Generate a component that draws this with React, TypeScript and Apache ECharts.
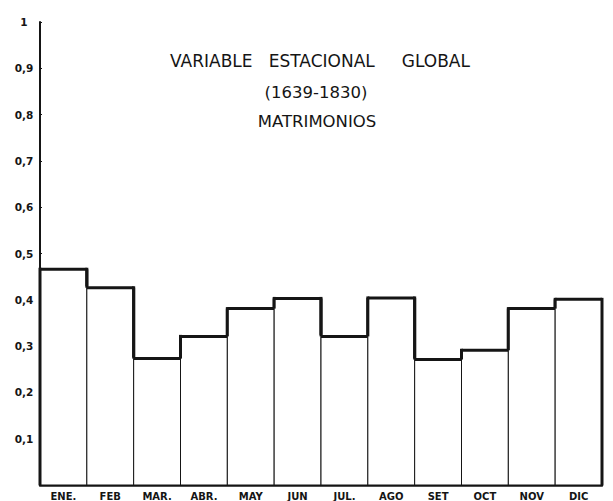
import React, { useEffect, useRef } from "react";
import * as echarts from "echarts";

const months = ["ENE.", "FEB", "MAR.", "ABR.", "MAY", "JUN", "JUL.", "AGO", "SET", "OCT", "NOV", "DIC"];
const values = [0.466, 0.426, 0.273, 0.321, 0.381, 0.403, 0.321, 0.404, 0.271, 0.291, 0.381, 0.401];
const yTicks = [0, 0.1, 0.2, 0.3, 0.4, 0.5, 0.6, 0.7, 0.8, 0.9, 1];
const titleLines = ["VARIABLE   ESTACIONAL     GLOBAL", "(1639-1830)", "MATRIMONIOS"];

export default function App() {
  const ref = useRef<HTMLDivElement>(null);
  useEffect(() => {
    if (!ref.current) return;
    const chart = echarts.init(ref.current, null, { renderer: "svg" });
    const data = values.map((v, i) => [
      i,
      v,
      i === 0 ? 0 : values[i - 1],
      i === values.length - 1 ? 0 : values[i + 1],
    ]);
    const ink = "#151515";
    chart.setOption({
      animation: false,
      backgroundColor: "#ffffff",
      grid: { left: 40, right: 11, top: 22, bottom: 16 },
      graphic: [
        { type: "text", x: 320, y: 61, style: { text: titleLines[0], fill: ink, font: "17px 'DejaVu Sans'", textAlign: "center", textVerticalAlign: "middle" } },
        { type: "text", x: 316, y: 92, style: { text: titleLines[1], fill: ink, font: "16.5px 'DejaVu Sans'", textAlign: "center", textVerticalAlign: "middle" } },
        { type: "text", x: 317, y: 121, style: { text: titleLines[2], fill: ink, font: "16.5px 'DejaVu Sans'", textAlign: "center", textVerticalAlign: "middle" } },
      ],
      xAxis: {
        type: "category",
        data: months,
        boundaryGap: true,
        axisLine: { lineStyle: { color: ink, width: 2.5 } },
        axisTick: { show: false },
        axisLabel: { color: ink, fontSize: 10, fontWeight: "bold", fontFamily: "DejaVu Sans", margin: 6 },
      },
      yAxis: {
        type: "value",
        min: 0,
        max: 1,
        interval: 0.1,
        splitLine: { show: false },
        axisLine: { show: true, lineStyle: { color: ink, width: 2 } },
        axisTick: { show: true, inside: true, length: 2, lineStyle: { color: ink, width: 1 } },
        axisLabel: {
          color: ink,
          fontSize: 10.5,
          fontWeight: "bold",
          fontFamily: "DejaVu Sans",
          align: "center",
          margin: 16,
          formatter: (v: number) => {
            const t = yTicks.find((k) => Math.abs(k - v) < 1e-6);
            if (t === undefined || t === 0) return "";
            if (t === 1) return "1";
            return t.toFixed(1).replace(".", ",");
          },
        },
      },
      series: [
        {
          type: "custom",
          data,
          encode: { x: 0, y: 1 },
          renderItem: (params: any, api: any) => {
            const i = api.value(0);
            const v = api.value(1);
            const prev = api.value(2);
            const next = api.value(3);
            const top = api.coord([i, v]);
            const base = api.coord([i, 0]);
            const prevTop = api.coord([i, prev]);
            const nextTop = api.coord([i, next]);
            const w = api.size([1, 0])[0];
            const x0 = top[0] - w / 2;
            const x1 = top[0] + w / 2;
            return {
              type: "group",
              children: [
                {
                  type: "rect",
                  shape: { x: x0, y: top[1], width: w, height: base[1] - top[1] },
                  style: { fill: "#ffffff", stroke: ink, lineWidth: 1 },
                },
                {
                  type: "line",
                  shape: { x1: x0, y1: top[1], x2: x1, y2: top[1] },
                  style: { stroke: ink, lineWidth: 3 },
                },
                {
                  type: "line",
                  shape: { x1: x0, y1: top[1] - 1.5, x2: x0, y2: prevTop[1] },
                  style: { stroke: ink, lineWidth: 3 },
                },
                {
                  type: "line",
                  shape: { x1: x1, y1: top[1] - 1.5, x2: x1, y2: nextTop[1] },
                  style: { stroke: ink, lineWidth: 3 },
                },
              ],
            };
          },
        },
      ],
    });
    return () => chart.dispose();
  }, []);
  return (
    <div
      ref={ref}
      style={{ position: "fixed", left: 0, top: 0, width: 613, height: 501, background: "#fff" }}
    />
  );
}
